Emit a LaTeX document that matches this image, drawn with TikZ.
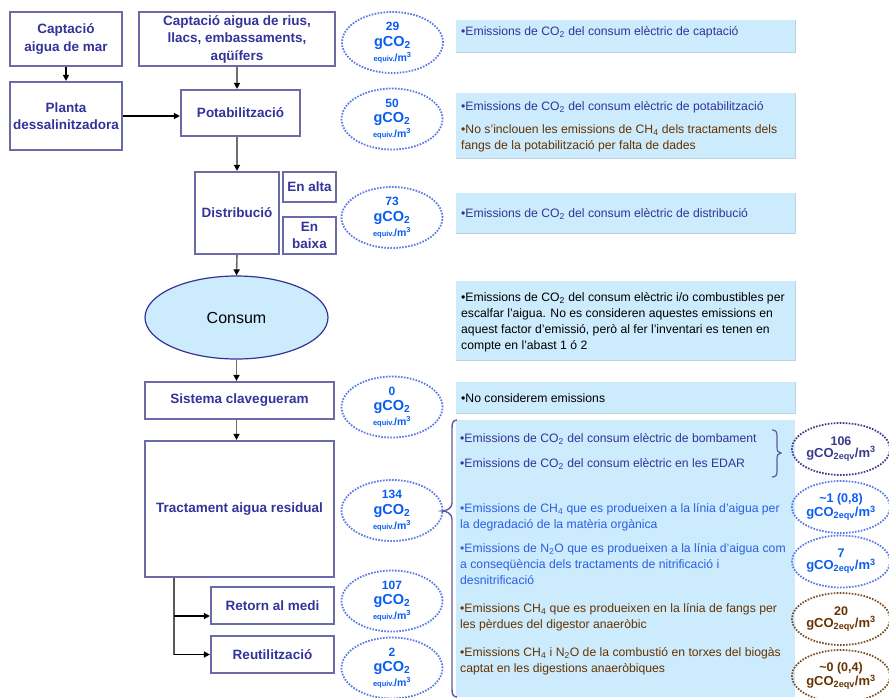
\documentclass[tikz,border=0pt]{standalone}
\usepackage{fontspec}
\setmainfont{Liberation Sans}
\usetikzlibrary{shapes.geometric,arrows.meta,calc}
\definecolor{boxline}{HTML}{6B6BA8}
\definecolor{titleblue}{HTML}{333399}
\definecolor{ellblue}{HTML}{5A78E6}
\definecolor{valblue}{HTML}{0A5CF2}
\definecolor{tbfill}{HTML}{CCEBFC}
\definecolor{tbedge}{HTML}{BCD4E2}
\definecolor{dblue}{HTML}{333399}
\definecolor{bblue}{HTML}{2A5FE6}
\definecolor{brown}{HTML}{663300}
\definecolor{conngray}{HTML}{6E6E6E}
\definecolor{bracecol}{HTML}{5A5AA6}
\definecolor{rdark}{HTML}{3A3A8C}
\definecolor{rbrown}{HTML}{7A4E26}
\newcommand\tstrut{\rule{0pt}{10pt}}
\newcommand\lval[1]{{\fontsize{12}{13}\selectfont\bfseries #1}\\[3.5pt]{\fontsize{14.5}{14}\selectfont\bfseries gCO\textsubscript{2}}\\[1.5pt]{\fontsize{7.5}{9}\selectfont\bfseries equiv.}{\fontsize{10.5}{9}\selectfont\bfseries/m\textsuperscript{3}}}
\newcommand\rval[1]{{\fontsize{12.5}{13}\selectfont\bfseries #1}\\{\fontsize{13}{13}\selectfont\bfseries gCO\textsubscript{2eqv}/m\textsuperscript{3}}}
\begin{document}
\begin{tikzpicture}[x=1pt,y=-1pt,
  procbox/.style={draw=boxline, line width=2.2pt, fill=white, text=titleblue,
    font=\fontsize{13.5}{17.5}\selectfont\bfseries, align=center, inner sep=0pt},
  lell/.style={ellipse, draw=ellblue, line width=1.8pt, dash pattern=on 1.6pt off 1.4pt,
    minimum width=101pt, minimum height=61pt, inner sep=0pt, align=center, text=valblue},
  rell/.style={ellipse, line width=1.8pt, dash pattern=on 1.6pt off 1.4pt,
    minimum width=95pt, minimum height=52pt, inner sep=0pt, align=center},
  tbox/.style={fill=tbfill, draw=none, inner sep=0pt, anchor=north west, minimum width=339pt},
  tt/.style={anchor=north west, align=left, inner sep=0pt, font=\fontsize{12.2}{16}\selectfont},
  conn/.style={draw=conngray, line width=1.6pt, -{Triangle[length=6pt,width=6pt,color=black]}},
  connb/.style={draw=black, line width=1.6pt, -{Triangle[length=6pt,width=6pt,color=black]}}
]
\useasboundingbox (0,0) rectangle (889,697);

% ---- text boxes ----
\node[tbox, minimum height=32pt] (tb1) at (456,20) {};
\node[tbox, minimum height=65pt] (tb2) at (456,93) {};
\node[tbox, minimum height=40pt] (tb3) at (456,193) {};
\node[tbox, minimum height=79pt] (tb4) at (456,281) {};
\node[tbox, minimum height=31pt] (tb5) at (456,382) {};
\node[tbox, minimum height=277pt] (tb6) at (456,420) {};
\foreach \b in {tb1,tb2,tb3,tb4,tb5}{
  \draw[tbedge, line width=1pt] (\b.north east) -- (\b.south east) -- (\b.south west);
}

\node[tt, text=dblue] at (461,25) {\tstrut•Emissions de CO\textsubscript{2} del consum elèctric de captació};
\node[tt, text=dblue] at (461,100) {\tstrut•Emissions de CO\textsubscript{2} del consum elèctric de potabilització};
\node[tt, text=brown] at (461,123) {\tstrut•No s’inclouen les emissions de CH\textsubscript{4} dels tractaments dels\\fangs de la potabilització per falta de dades};
\node[tt, text=dblue] at (461,207) {\tstrut•Emissions de CO\textsubscript{2} del consum elèctric de distribució};
\node[tt, text=black] at (461,291) {\tstrut•Emissions de CO\textsubscript{2} del consum elèctric i/o combustibles per\\escalfar l’aigua. No es consideren aquestes emissions en\\aquest factor d’emissió, però al fer l’inventari es tenen en\\compte en l’abast 1 ó 2};
\node[tt, text=black] at (461,392) {\tstrut•No considerem emissions};
\node[tt, text=dblue] at (460,432) {\tstrut•Emissions de CO\textsubscript{2} del consum elèctric de bombament};
\node[tt, text=dblue] at (460,457) {\tstrut•Emissions de CO\textsubscript{2} del consum elèctric en les EDAR};
\node[tt, text=bblue] at (460,502) {\tstrut•Emissions de CH\textsubscript{4} que es produeixen a la línia d’aigua per\\la degradació de la matèria orgànica};
\node[tt, text=bblue] at (460,542) {\tstrut•Emissions de N\textsubscript{2}O que es produeixen a la línia d’aigua com\\a conseqüència dels tractaments de nitrificació i\\desnitrificació};
\node[tt, text=brown] at (460,602) {\tstrut•Emissions CH\textsubscript{4} que es produeixen en la línia de fangs per\\les pèrdues del digestor anaeròbic};
\node[tt, text=brown] at (460,646) {\tstrut•Emissions CH\textsubscript{4} i N\textsubscript{2}O de la combustió en torxes del biogàs\\captat en les digestions anaeròbiques};

% braces
\draw[bracecol, line width=1.4pt] (457,420) .. controls (453,420) and (452,423) .. (452,428) -- (452,503)
  .. controls (452,508) and (447,511) .. (442,511) .. controls (447,511) and (452,514) .. (452,519)
  -- (452,689) .. controls (452,694) and (453,697) .. (457,697);
\draw[bracecol, line width=1.2pt] (772,430) .. controls (776,430) and (777,432) .. (777,436) -- (777,447)
  .. controls (777,451) and (778,453) .. (781,453) .. controls (778,453) and (777,455) .. (777,459)
  -- (777,471) .. controls (777,475) and (776,477) .. (772,477);

% ---- process boxes ----
\node[procbox, minimum width=112pt, minimum height=54pt] (mar) at (66,39) {Captació\\aigua de mar};
\node[procbox, minimum width=196pt, minimum height=54pt] (rius) at (237,39) {Captació aigua de rius,\\llacs, embassaments,\\aqüífers};
\node[procbox, minimum width=112pt, minimum height=68pt] (planta) at (66,116) {Planta\\dessalinitzadora};
\node[procbox, minimum width=119pt, minimum height=46pt] (potab) at (240.5,113) {Potabilització};
\node[procbox, minimum width=84pt, minimum height=82pt] (distrib) at (237,213) {Distribució};
\node[procbox, minimum width=53pt, minimum height=30pt] (alta) at (309.5,187) {En alta};
\node[procbox, minimum width=53pt, minimum height=37pt] (baixa) at (309.5,235.5) {En\\baixa};
\node[ellipse, draw=titleblue, line width=1.2pt, fill=tbfill, minimum width=183pt, minimum height=83pt,
  inner sep=0pt, font=\fontsize{16}{18}\selectfont] (consum) at (236.5,317.5) {Consum};
\node[procbox, minimum width=189pt, minimum height=37pt] (sist) at (239.5,400.5) {Sistema clavegueram};
\node[procbox, minimum width=189pt, minimum height=136pt] (tract) at (239.5,509) {Tractament aigua residual};
\node[procbox, minimum width=123pt, minimum height=37pt] (retorn) at (272.5,605.5) {Retorn al medi};
\node[procbox, minimum width=123pt, minimum height=37pt] (reutil) at (272.5,654.5) {Reutilització};

% ---- connectors ----
\draw[connb] (mar.south) -- (planta.north);
\draw[connb] (planta.east) -- (planta.east -| potab.west);
\draw[conn] (rius.south) -- (rius.south |- potab.north);
\draw[conn] (rius.south |- potab.south) -- (rius.south |- distrib.north);
\draw[conn] (distrib.south) -- (consum.north);
\draw[conn] (consum.south) -- (consum.south |- sist.north);
\draw[conn] (consum.south |- sist.south) -- (consum.south |- tract.north);
\coordinate (br) at ($(tract.south west)+(30,0)$);
\coordinate (br1) at ($(retorn.west)+(0,10.5)$);
\draw[draw=conngray!80!black, line width=2.2pt] (br) -- (br |- reutil.west);
\draw[connb] (br |- br1) -- (br1);
\draw[connb] (br |- reutil.west) -- (reutil.west);

% ---- left value ellipses ----
\node[lell] (v1) at (392.5,42.5) {\lval{29}};
\node[lell] (v2) at (392,119) {\lval{50}};
\node[lell] (v3) at (392,217.5) {\lval{73}};
\node[lell] (v4) at (392,407) {\lval{0}};
\node[lell] (v5) at (392,510.5) {\lval{134}};
\node[lell] (v6) at (392,601) {\lval{107}};
\node[lell] (v7) at (392,668) {\lval{2}};

% ---- right value ellipses ----
\node[rell, draw=rdark, text=rdark] (r1) at (841,449) {\rval{106}};
\node[rell, draw=ellblue, text=valblue] (r2) at (841,507) {\rval{\textasciitilde 1 (0,8)}};
\node[rell, draw=ellblue, text=valblue] (r3) at (841,561.5) {\rval{7}};
\node[rell, draw=rbrown, text=brown] (r4) at (841,619) {\rval{20}};
\node[rell, draw=rbrown, text=brown] (r5) at (841,676) {\rval{\textasciitilde 0 (0,4)}};
\end{tikzpicture}
\end{document}
